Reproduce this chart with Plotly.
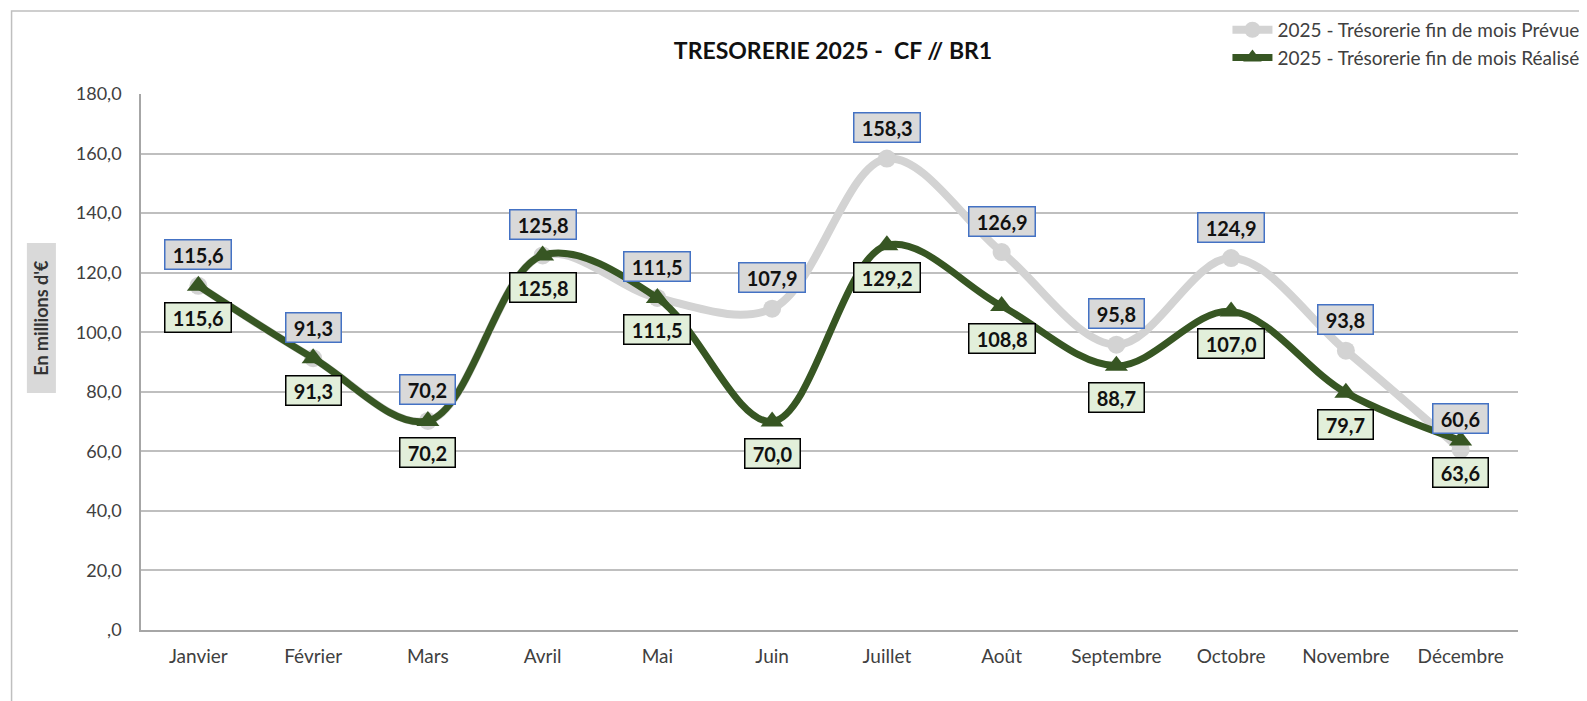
import plotly.graph_objects as go

months = ["Janvier", "Février", "Mars", "Avril", "Mai", "Juin", "Juillet",
          "Août", "Septembre", "Octobre", "Novembre", "Décembre"]
prevue = [115.6, 91.3, 70.2, 125.8, 111.5, 107.9, 158.3, 126.9, 95.8, 124.9, 93.8, 60.6]
realisee = [115.6, 91.3, 70.2, 125.8, 111.5, 70.0, 129.2, 108.8, 88.7, 107.0, 79.7, 63.6]
tick_vals = [0, 20, 40, 60, 80, 100, 120, 140, 160, 180]
tick_text = [",0", "20,0", "40,0", "60,0", "80,0", "100,0", "120,0", "140,0", "160,0", "180,0"]

FONT = "Lato, 'Open Sans', sans-serif"


def fmt(v):
    return f"{v:.1f}".replace(".", ",")


fig = go.Figure()
fig.add_trace(go.Scatter(
    x=months, y=prevue, mode="lines+markers", line_shape="spline",
    name="2025 - Trésorerie fin de mois Prévue",
    line=dict(color="#d3d3d3", width=8),
    marker=dict(symbol="circle", size=18, color="#d3d3d3"),
))
fig.add_trace(go.Scatter(
    x=months, y=realisee, mode="lines+markers", line_shape="spline",
    name="2025 - Trésorerie fin de mois Réalisée",
    line=dict(color="#375623", width=7),
    marker=dict(symbol="triangle-up", size=20, color="#375623"),
))

annotations = []
for m, v in zip(months, prevue):
    annotations.append(dict(
        x=m, y=v, xref="x", yref="y", text=f"&nbsp;<b>{fmt(v)}</b>&nbsp;", showarrow=False,
        yshift=31, font=dict(family=FONT, size=20, color="#111111"),
        bgcolor="#d9d9d9", bordercolor="#4472c4", borderwidth=1.5, borderpad=2,
    ))
for m, v in zip(months, realisee):
    annotations.append(dict(
        x=m, y=v, xref="x", yref="y", text=f"&nbsp;<b>{fmt(v)}</b>&nbsp;", showarrow=False,
        yshift=-32, font=dict(family=FONT, size=20, color="#111111"),
        bgcolor="#e2efda", bordercolor="#000000", borderwidth=1.5, borderpad=2,
    ))
# y axis title with grey background
annotations.append(dict(
    x=-0.0723, y=0.582, xref="paper", yref="paper", xanchor="center", yanchor="middle",
    text="&nbsp;&nbsp;&nbsp;<b>En millions d'€</b>&nbsp;&nbsp;&nbsp;",
    textangle=-90, showarrow=False, font=dict(family=FONT, size=18, color="#333333"),
    bgcolor="#d9d9d9", borderpad=3,
))

# The page adds an 8px body margin, so the figure is sized/offset to compensate.
fig.update_layout(
    width=1579, height=693,
    margin=dict(l=133, r=69, t=86, b=71, autoexpand=False),
    paper_bgcolor="white", plot_bgcolor="white",
    title=dict(text="<b>TRESORERIE 2025 -  CF // BR1</b>", x=0.5225, xanchor="center",
               y=0.938, yanchor="middle",
               font=dict(family=FONT, size=23, color="#111111")),
    legend=dict(x=0.789, y=1.155, xanchor="left", yanchor="top",
                font=dict(family=FONT, size=19, color="#404040"),
                bgcolor="rgba(0,0,0,0)", itemwidth=40),
    annotations=annotations,
    showlegend=True,
    shapes=[dict(type="rect", xref="paper", yref="paper",
                 x0=-0.094, x1=1.2, y0=-0.2, y1=1.155,
                 line=dict(color="#bfbfbf", width=1.5))],
)
fig.update_xaxes(
    type="category", range=[-0.5, len(months) - 0.5],
    showgrid=False, showline=True, linecolor="#a6a6a6", linewidth=1.5,
    ticks="", tickfont=dict(family=FONT, size=19, color="#404040"), ticklabelstandoff=8,
)
fig.update_yaxes(
    range=[0, 180], tickvals=tick_vals, ticktext=tick_text,
    showgrid=True, gridcolor="#bfbfbf", gridwidth=1.5,
    showline=True, linecolor="#a6a6a6", linewidth=1.5, zeroline=False,
    ticks="", tickfont=dict(family=FONT, size=18, color="#404040"), ticklabelstandoff=14,
)

fig.write_html("out.html")
